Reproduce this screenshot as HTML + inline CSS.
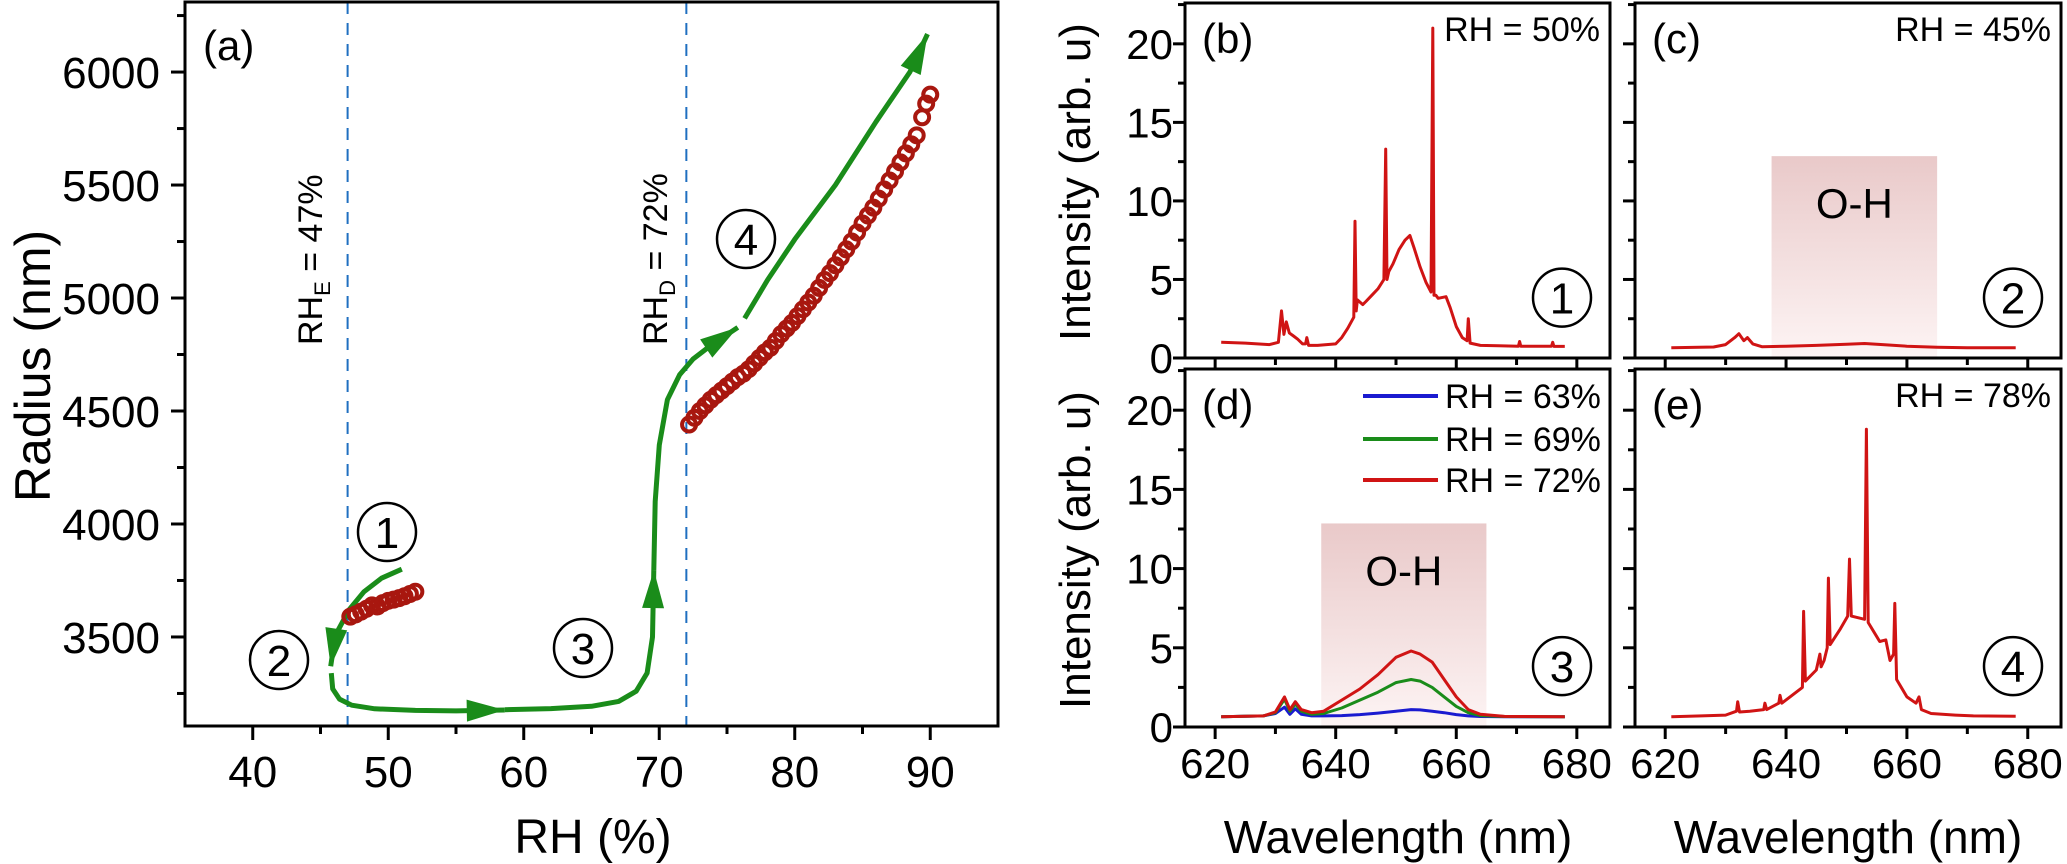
<!DOCTYPE html>
<html><head><meta charset="utf-8"><style>
html,body{margin:0;padding:0;background:#fff}
svg{display:block;font-family:"Liberation Sans",Arial,sans-serif}
</style></head><body>
<svg id="fig" width="2067" height="864" viewBox="0 0 2067 864" xmlns="http://www.w3.org/2000/svg">
<defs>
<linearGradient id="ohg" x1="0" y1="0" x2="0" y2="1">
<stop offset="0" stop-color="#e9c9c9"/><stop offset="1" stop-color="#fdf4f4"/>
</linearGradient>
</defs>
<g id="root"></g>
</svg>
<script>
// ---------- Panel (a) data ----------
const aXTicks=[40,50,60,70,80,90];
const aYTicks=[3500,4000,4500,5000,5500,6000];
const rh1=[47.2,47.6,48.0,48.4,48.8,49.2,49.6,50.0,50.4,50.8,51.2,51.6,52.0];
const rad1=[3590,3600,3612,3625,3640,3635,3650,3660,3665,3672,3680,3690,3700];
const rh2=[72.2,72.6,73.0,73.4,73.8,74.2,74.6,75.0,75.4,75.8,76.2,76.6,77.0,77.4,77.8,78.2,78.6,79.0,79.4,79.8,80.2,80.6,81.0,81.4,81.8,82.2,82.6,83.0,83.4,83.8,84.2,84.6,85.0,85.4,85.8,86.2,86.6,87.0,87.4,87.8,88.2,88.6,89.0,89.4,89.7,90.0];
const rad2=[4440,4470,4500,4525,4550,4570,4590,4610,4630,4650,4665,4685,4710,4735,4760,4780,4810,4840,4865,4890,4920,4950,4980,5010,5045,5080,5110,5145,5180,5215,5250,5290,5330,5365,5400,5440,5480,5520,5560,5600,5640,5680,5720,5800,5860,5900];
const pathA_x=[51,49.5,48.2,47.1,46.3,45.9,45.75];
const pathA_y=[3800,3760,3700,3620,3530,3430,3370];
const pathB_x=[45.8,45.9,46.4,47.3,49,52,55,58.6];
const pathB_y=[3340,3270,3225,3198,3182,3175,3173,3177];
const pathC_x=[58.6,62,65,67,68.3,69.1,69.5,69.6];
const pathC_y=[3178,3183,3193,3215,3260,3340,3500,3796];
const pathD_x=[69.6,69.7,70,70.6,71.5,72.5,73.8,75.8];
const pathD_y=[3796,4100,4350,4550,4660,4730,4790,4870];
const pathE_x=[76.3,78,80,83,86,88.5,89.8];
const pathE_y=[4910,5080,5260,5500,5780,6000,6168];

// ---------- Spectra data ----------
const wlTicks=[620,640,660,680];
const intTicks=[0,5,10,15,20];
const bWl=[621,625,629,630.5,631,631.4,631.8,632.3,633,633.7,634.5,635,635.2,635.5,637,640,641,642,643,643.2,643.4,643.6,644.5,645,646,647,648,648.3,648.5,648.8,649.5,650.5,651.5,652.3,653,654,655,655.8,656.1,656.3,656.6,657,658.3,659,660,661,661.8,662,662.3,664,667,670.3,670.5,670.7,674,675.8,676,676.2,678];
const bInt=[1.0,0.95,0.85,1.0,3.0,1.5,2.3,1.6,1.4,1.2,0.9,0.9,1.3,0.8,0.8,0.9,1.3,1.9,2.6,8.7,3.0,3.7,3.4,3.6,4.0,4.4,5.0,13.3,5.0,5.5,6.0,6.9,7.5,7.8,7.0,5.8,4.8,4.2,21.0,4.0,4.0,3.8,3.9,3.2,2.0,1.3,1.1,2.5,0.95,0.8,0.78,0.75,1.05,0.75,0.75,0.75,1.0,0.74,0.74];
const cWl=[621,628,630,631.5,632.2,633,633.6,634.5,636,640,645,650,653,656,660,665,670,678];
const cInt=[0.65,0.7,0.85,1.3,1.55,1.1,1.3,0.9,0.72,0.75,0.8,0.88,0.92,0.85,0.75,0.68,0.65,0.65];
const dWl=[621,628,630,631.5,632.4,633.3,634.3,636,638,641,644,647,650,652.5,654,656,658,660,662,664,668,678];
const dBlue=[0.65,0.7,0.85,1.25,0.8,1.15,0.8,0.7,0.7,0.72,0.78,0.88,1.0,1.1,1.08,1.0,0.9,0.78,0.7,0.66,0.65,0.65];
const dGreen=[0.65,0.7,0.9,1.75,1.0,1.45,1.0,0.8,0.85,1.2,1.7,2.2,2.8,3.0,2.9,2.5,1.9,1.3,0.9,0.72,0.66,0.65];
const dRed=[0.65,0.7,0.95,1.9,1.1,1.6,1.1,0.9,1.0,1.7,2.4,3.3,4.4,4.8,4.6,4.1,3.0,1.9,1.1,0.8,0.67,0.65];
const eWl=[621,626,630,631.8,632,632.3,634,636.3,636.5,636.8,638.8,639,639.3,641,642.7,642.9,643.2,645,645.6,645.8,646.3,646.8,647,647.3,649,650.2,650.5,650.8,653,653.3,653.6,655.5,656.5,657.2,657.8,658,658.3,660,661.5,662,662.4,664,668,671,678];
const eInt=[0.65,0.7,0.75,1.0,1.6,0.95,1.0,1.1,1.5,1.1,1.5,2.0,1.5,2.0,2.5,7.3,2.9,3.6,4.6,3.8,4.2,5.0,9.4,5.2,6.2,7.0,10.6,7.0,6.8,18.8,6.6,5.4,5.5,4.2,4.6,7.8,3.0,1.9,1.5,1.9,1.1,0.85,0.75,0.7,0.68];

const NS="http://www.w3.org/2000/svg";
const root=document.getElementById('root');
function mk(tag,attrs,parent){const e=document.createElementNS(NS,tag);for(const k in attrs)e.setAttribute(k,attrs[k]);(parent||root).appendChild(e);return e;}
function txt(s,attrs,parent){const e=mk('text',attrs,parent);e.textContent=s;return e;}

// ---------- Panel (a) ----------
const A={l:185,r:998,t:2,b:726,x0:35,x1:95,y0:3106,y1:6310};
const ax=v=>A.l+(v-A.x0)/(A.x1-A.x0)*(A.r-A.l);
const ay=v=>A.b-(v-A.y0)/(A.y1-A.y0)*(A.b-A.t);
const gA=mk('g',{});


// dashed lines
[47,72].forEach(v=>{const l=mk('line',{x1:ax(v),x2:ax(v),y1:A.t,y2:A.b,stroke:'#1f6fc0','stroke-width':2,'stroke-dasharray':'12,9'},gA);

});
// ticks
for(let v=40;v<=90;v+=5){const major=v%10===0;mk('line',{x1:ax(v),x2:ax(v),y1:A.b,y2:A.b+(major?14:8),stroke:'#000','stroke-width':3},gA);}
aXTicks.forEach(v=>{const t=txt(String(v),{x:ax(v),y:787,'font-size':44,'text-anchor':'middle'},gA);

});
for(let v=3250;v<=6250;v+=250){const major=v%500===0;mk('line',{x1:A.l,x2:A.l-(major?14:8),y1:ay(v),y2:ay(v),stroke:'#000','stroke-width':3},gA);}
aYTicks.forEach(v=>{const t=txt(String(v),{x:160,y:ay(v)+16,'font-size':44,'text-anchor':'end'},gA);

});
// green arrow paths
function pl(xs,ys,f){return xs.map((x,i)=>f.x(x).toFixed(1)+','+f.y(ys[i]).toFixed(1)).join(' ');}
const fa={x:ax,y:ay};
[[pathA_x,pathA_y],[pathB_x,pathB_y],[pathC_x,pathC_y],[pathD_x,pathD_y],[pathE_x,pathE_y]].forEach((p,i)=>{
 const e=mk('polyline',{points:pl(p[0],p[1],fa),fill:'none',stroke:'#1a8c1a','stroke-width':5,'stroke-linejoin':'round'},gA);
 
 
});
function head(xs,ys,len,hw){const n=xs.length;const tx=ax(xs[n-1]),ty=ay(ys[n-1]);const px=ax(xs[n-2]),py=ay(ys[n-2]);
 let dx=tx-px,dy=ty-py;const d=Math.hypot(dx,dy);dx/=d;dy/=d;const bx=tx-dx*len,by=ty-dy*len;
 const h=mk('polygon',{points:`${tx},${ty} ${bx-dy*hw},${by+dx*hw} ${bx+dy*hw},${by-dx*hw}`,fill:'#1a8c1a'},gA);
 
 }
head(pathA_x,pathA_y,38,11);head(pathB_x,pathB_y,38,11);head(pathC_x,pathC_y,38,11);head(pathD_x,pathD_y,38,11);head(pathE_x,pathE_y,40,11);
// circles
[[rh1,rad1],[rh2,rad2]].forEach((s,k)=>{s[0].forEach((x,i)=>{const c=mk('circle',{cx:ax(x),cy:ay(s[1][i]),r:7,fill:'none',stroke:'#a8170f','stroke-width':4},gA);
 
 });});
mk('rect',{x:A.l,y:A.t,width:A.r-A.l,height:A.b-A.t,fill:'none',stroke:'#000','stroke-width':3},gA);
txt('(a)',{x:203,y:60,'font-size':42},gA);
const rl1=txt('',{transform:'translate(322,345) rotate(-90)','font-size':34},gA);
rl1.innerHTML='RH<tspan font-size="22" dy="8">E</tspan><tspan dy="-8"> = 47%</tspan>';


const rl2=txt('',{transform:'translate(667,345) rotate(-90)','font-size':34},gA);
rl2.innerHTML='RH<tspan font-size="22" dy="8">D</tspan><tspan dy="-8"> = 72%</tspan>';


function circ(cx,cy,n,parent,name){const g=mk('g',{},parent);
 mk('circle',{cx:cx,cy:cy,r:29,fill:'none',stroke:'#000','stroke-width':2.5},g);txt(n,{x:cx,y:cy+16,'font-size':44,'text-anchor':'middle'},g);}
circ(387,532,'1',gA,'stage-1-marker');circ(279,660,'2',gA,'stage-2-marker');circ(583,648,'3',gA,'stage-3-marker');circ(746,239,'4',gA,'stage-4-marker');
const ytA=txt('Radius (nm)',{transform:'translate(50,366) rotate(-90)','font-size':50,'text-anchor':'middle'},gA);


const xtA=txt('RH (%)',{x:593,y:853,'font-size':48,'text-anchor':'middle'},gA);



// ---------- Spectra panels ----------
const W0=615,W1=685.5;
function panel(name,l,r,t,b,opts){
 const g=mk('g',{});
 
 
 const fx=v=>l+(v-W0)/(W1-W0)*(r-l);
 const fy=v=>b-v/22.6*(b-t);
 if(opts.oh){const rr=mk('rect',{x:fx(637.6),y:fy(12.85),width:fx(665)-fx(637.6),height:b-fy(12.85),fill:'url(#ohg)'},g);
  
  
  txt('O-H',{x:(fx(637.6)+fx(665))/2,y:fy(12.85)+62,'font-size':42,'text-anchor':'middle'},g);}
 for(let v=620;v<=680;v+=10){mk('line',{x1:fx(v),x2:fx(v),y1:b,y2:b+(v%20===0?12:7),stroke:'#000','stroke-width':3},g);}
 for(let v=0;v<=22.5;v+=2.5){mk('line',{x1:l,x2:l-(v%5===0?12:7),y1:fy(v),y2:fy(v),stroke:'#000','stroke-width':3},g);}
 if(opts.yl){intTicks.forEach(v=>{const t=txt(String(v),{x:l-12,y:fy(v)+15,'font-size':42,'text-anchor':'end'},g);
  
  });}
 if(opts.xl){wlTicks.forEach(v=>{const t=txt(String(v),{x:fx(v),y:778,'font-size':42,'text-anchor':'middle'},g);
  
  });}
 opts.series.forEach(s=>{const e=mk('polyline',{points:s.x.map((x,i)=>fx(x).toFixed(1)+','+fy(s.y[i]).toFixed(1)).join(' '),fill:'none',stroke:s.c,'stroke-width':3,'stroke-linejoin':'round'},g);
  
  });
 mk('rect',{x:l,y:t,width:r-l,height:b-t,fill:'none',stroke:'#000','stroke-width':3},g);
 txt(opts.lab,{x:l+17,y:t+50,'font-size':42},g);
 if(opts.rh)txt(opts.rh,{x:r-10,y:t+38,'font-size':34,'text-anchor':'end'},g);
 circ(r-48,(t+b)/2+(b-t)*0.33,opts.num,g,'stage-'+opts.num+'-marker');
 return g;
}
panel('panel-b',1185,1610,3,358,{yl:true,lab:'(b)',rh:'RH = 50%',num:'1',series:[{x:bWl,y:bInt,c:'#d01414',n:'spectrum-rh50'}]});
panel('panel-c',1635,2061,3,358,{oh:true,lab:'(c)',rh:'RH = 45%',num:'2',series:[{x:cWl,y:cInt,c:'#d01414',n:'spectrum-rh45'}]});
const gd=panel('panel-d',1185,1610,369,727,{oh:true,yl:true,xl:true,lab:'(d)',num:'3',series:[{x:dWl,y:dBlue,c:'#1a1ad0',n:'spectrum-rh63'},{x:dWl,y:dGreen,c:'#1a8c1a',n:'spectrum-rh69'},{x:dWl,y:dRed,c:'#d01414',n:'spectrum-rh72'}]});
panel('panel-e',1635,2061,369,727,{xl:true,lab:'(e)',rh:'RH = 78%',num:'4',series:[{x:eWl,y:eInt,c:'#d01414',n:'spectrum-rh78'}]});
// legend in d
[['RH = 63%','#1a1ad0',396],['RH = 69%','#1a8c1a',439],['RH = 72%','#d01414',480]].forEach(L=>{
 const g=mk('g',{},gd);
 
 
 mk('line',{x1:1363,x2:1438,y1:L[2],y2:L[2],stroke:L[1],'stroke-width':4},g);
 txt(L[0],{x:1445,y:L[2]+12,'font-size':34},g);
});
[['Intensity (arb. u)',182],['Intensity (arb. u)',550]].forEach((T,i)=>{const t=txt(T[0],{transform:`translate(1090,${T[1]}) rotate(-90)`,'font-size':44,'text-anchor':'middle'});
 
 });
[1398,1848].forEach(x=>{const t=txt('Wavelength (nm)',{x:x,y:853,'font-size':46,'text-anchor':'middle'});
 
 });
</script>
</body></html>
